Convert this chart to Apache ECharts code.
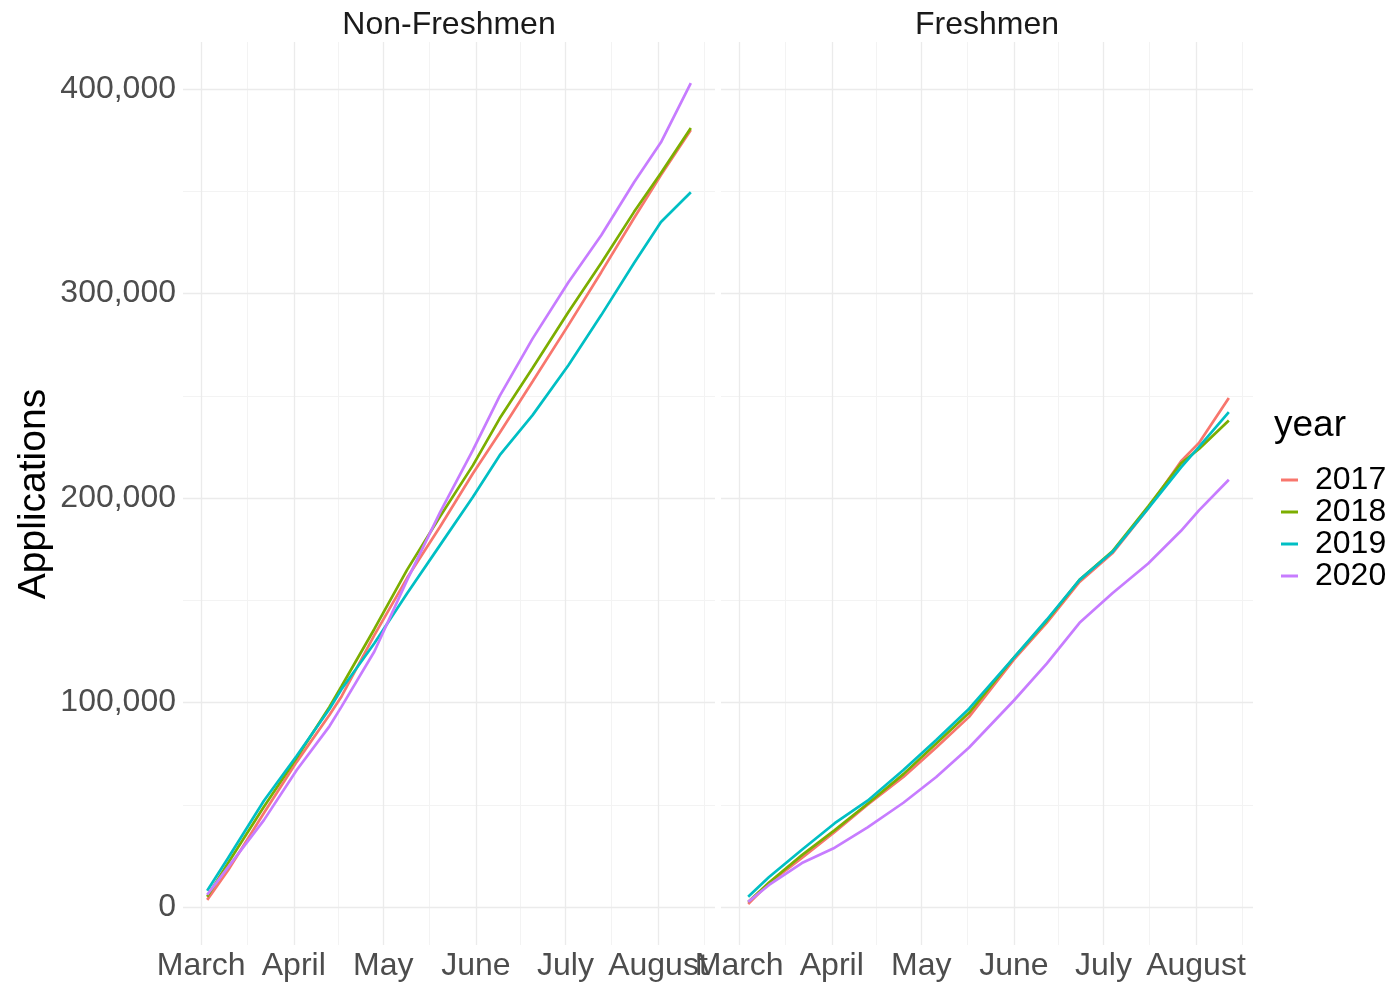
<!DOCTYPE html>
<html>
<head>
<meta charset="utf-8">
<script src="https://cdn.jsdelivr.net/npm/echarts@6/dist/echarts.min.js"></script>
<style>
  html, body { margin: 0; padding: 0; background: #ffffff; }
  #chart { width: 1400px; height: 985px; }
</style>
</head>
<body>
<div id="chart"></div>
<script>
// Cumulative applications by day of the season, one line per year, faceted by applicant type.
const years = ['2017', '2018', '2019', '2020'];
const yearColors = ['#F8766D', '#7CAE00', '#00BFC4', '#C77CFF'];
const panelTitles = ['Non-Freshmen', 'Freshmen'];
const monthNames = ['March', 'April', 'May', 'June', 'July', 'August'];
const monthStarts = ['2020-03-01', '2020-04-01', '2020-05-01', '2020-06-01', '2020-07-01', '2020-08-01', '2020-09-01'];
const yMajorTicks = [0, 100000, 200000, 300000, 400000];
const yMinorTicks = [50000, 150000, 250000, 350000];

// Non-Freshmen
const nonFreshDates = ['2020-03-03', '2020-03-10', '2020-03-22', '2020-04-02', '2020-04-13', '2020-04-17',
  '2020-04-28', '2020-05-09', '2020-05-20', '2020-05-31', '2020-06-09', '2020-06-20', '2020-07-02',
  '2020-07-13', '2020-07-24', '2020-08-02', '2020-08-12'];
const nonFresh2017 = [3500, 18000, 46000, 71000, 94000, 103000, 133000, 161000, 186000, 212000, 232000, 257000, 284600, 310500, 337000, 358000, 380000];
const nonFresh2018 = [5000, 21500, 49000, 73000, 98000, 108000, 136000, 165000, 191000, 216000, 239000, 263600, 291000, 315000, 340000, 359000, 381000];
const nonFresh2019 = [8000, 24000, 52000, 74000, 97000, 106500, 129000, 153500, 177000, 200500, 221000, 240600, 265000, 289500, 315000, 335000, 349600];
const nonFresh2020 = [6000, 19500, 42500, 67000, 88500, 98000, 125000, 160000, 193000, 223500, 250000, 278000, 305600, 328600, 354500, 374000, 403000];

// Freshmen
const freshDates = ['2020-03-04', '2020-03-11', '2020-03-22', '2020-04-02', '2020-04-13', '2020-04-25',
  '2020-05-06', '2020-05-17', '2020-06-01', '2020-06-12', '2020-06-23', '2020-07-04', '2020-07-16',
  '2020-07-27', '2020-08-02', '2020-08-12'];
const fresh2017 = [1500, 11700, 24000, 36700, 50000, 63600, 78000, 93000, 121000, 139000, 159000, 173000, 195000, 218000, 227000, 249000];
const fresh2018 = [2500, 12000, 25400, 37600, 50500, 65000, 80000, 95000, 122000, 140000, 160000, 174000, 196000, 217000, 224000, 238000];
const fresh2019 = [5000, 14700, 28000, 41000, 52000, 67000, 81700, 97000, 122000, 140500, 160000, 173600, 195000, 215000, 225000, 242000];
const fresh2020 = [2500, 10800, 21500, 29000, 39000, 51000, 63600, 78000, 101000, 119000, 139000, 153500, 168000, 184000, 194000, 209000];

const panels = [
  { dates: nonFreshDates, values: [nonFresh2017, nonFresh2018, nonFresh2019, nonFresh2020] },
  { dates: freshDates, values: [fresh2017, fresh2018, fresh2019, fresh2020] }
];

const FONT = "'Liberation Sans', Arial, Helvetica, sans-serif";
const toTime = s => Date.parse(s + 'T00:00:00Z');

// Shared scales with a 5% expansion on each side of the data range
const allTimes = panels.flatMap(p => p.dates.map(toTime));
const allValues = panels.flatMap(p => p.values.flat());
const tMin0 = Math.min(...allTimes), tMax0 = Math.max(...allTimes);
const vMin0 = Math.min(...allValues), vMax0 = Math.max(...allValues);
const tPad = (tMax0 - tMin0) * 0.05, vPad = (vMax0 - vMin0) * 0.05;
const xMin = tMin0 - tPad, xMax = tMax0 + tPad;
const yMin = vMin0 - vPad, yMax = vMax0 + vPad;

// Month starts carry the labels; mid-month lines are the minor grid
const monthTimes = monthStarts.map(toTime);
const xMajorTicks = monthTimes.slice(0, monthNames.length);
const xMinorTicks = monthTimes.slice(1).map((t, i) => (t + monthTimes[i]) / 2);

const gridBoxes = [
  { left: 183, top: 42, width: 532, height: 903 },
  { left: 721, top: 42, width: 532, height: 903 }
];

const majorLine = { show: true, lineStyle: { color: '#ebebeb', width: 1.3 } };
const minorLine = { show: true, lineStyle: { color: '#f3f3f3', width: 1 } };

const xAxes = [], yAxes = [], series = [];
gridBoxes.forEach((g, gi) => {
  xAxes.push({
    type: 'value', gridIndex: gi, min: xMin, max: xMax,
    axisLine: { show: false },
    axisTick: { show: false, customValues: xMajorTicks },
    axisLabel: {
      customValues: xMajorTicks, margin: 5, fontSize: 32, color: '#4d4d4d', fontFamily: FONT,
      showMinLabel: true, showMaxLabel: true,
      formatter: v => monthNames[new Date(v).getUTCMonth() - 2] || ''
    },
    splitLine: majorLine, z: 1
  });
  xAxes.push({
    type: 'value', gridIndex: gi, min: xMin, max: xMax,
    axisLine: { show: false },
    axisTick: { show: false, customValues: xMinorTicks },
    axisLabel: { show: false, customValues: xMinorTicks },
    splitLine: minorLine, z: 0
  });
  yAxes.push({
    type: 'value', gridIndex: gi, min: yMin, max: yMax,
    axisLine: { show: false },
    axisTick: { show: false, customValues: yMajorTicks },
    axisLabel: {
      show: gi === 0, customValues: yMajorTicks, margin: 7, fontSize: 32, color: '#4d4d4d', fontFamily: FONT,
      formatter: v => v.toLocaleString('en-US')
    },
    splitLine: majorLine, z: 1
  });
  yAxes.push({
    type: 'value', gridIndex: gi, min: yMin, max: yMax,
    axisLine: { show: false },
    axisTick: { show: false, customValues: yMinorTicks },
    axisLabel: { show: false, customValues: yMinorTicks },
    splitLine: minorLine, z: 0
  });

  const p = panels[gi];
  years.forEach((yr, yi) => {
    series.push({
      type: 'line', name: yr,
      xAxisIndex: gi * 2, yAxisIndex: gi * 2,
      data: p.dates.map((d, k) => [toTime(d), p.values[yi][k]]),
      symbol: 'none', showSymbol: false, smooth: false,
      lineStyle: { color: yearColors[yi], width: 2.7 },
      itemStyle: { color: yearColors[yi] },
      emphasis: { disabled: true },
      z: 3 + yi
    });
  });
});

const chart = echarts.init(document.getElementById('chart'), null, { renderer: 'canvas' });
chart.setOption({
  backgroundColor: '#ffffff',
  animation: false,
  grid: gridBoxes.map(g => Object.assign({ containLabel: false }, g)),
  xAxis: xAxes,
  yAxis: yAxes,
  series: series,
  legend: {
    data: years,
    orient: 'vertical',
    left: 1276, top: 459,
    icon: 'rect', itemWidth: 17, itemHeight: 3, itemGap: 0,
    selectedMode: false,
    textStyle: { fontSize: 32, lineHeight: 32, color: '#000000', fontFamily: FONT, padding: [0, 0, 0, 12] }
  },
  graphic: [
    { type: 'text', x: 449, y: 25, style: { text: panelTitles[0], fontSize: 32, fontFamily: FONT, fill: '#1a1a1a', textAlign: 'center', textVerticalAlign: 'middle' } },
    { type: 'text', x: 987, y: 25, style: { text: panelTitles[1], fontSize: 32, fontFamily: FONT, fill: '#1a1a1a', textAlign: 'center', textVerticalAlign: 'middle' } },
    { type: 'text', x: 34, y: 494, rotation: Math.PI / 2, style: { text: 'Applications', fontSize: 39, fontFamily: FONT, fill: '#000000', textAlign: 'center', textVerticalAlign: 'middle' } },
    { type: 'text', x: 1274, y: 426, style: { text: 'year', fontSize: 37, fontFamily: FONT, fill: '#000000', textAlign: 'left', textVerticalAlign: 'middle' } }
  ]
});
</script>
</body>
</html>
